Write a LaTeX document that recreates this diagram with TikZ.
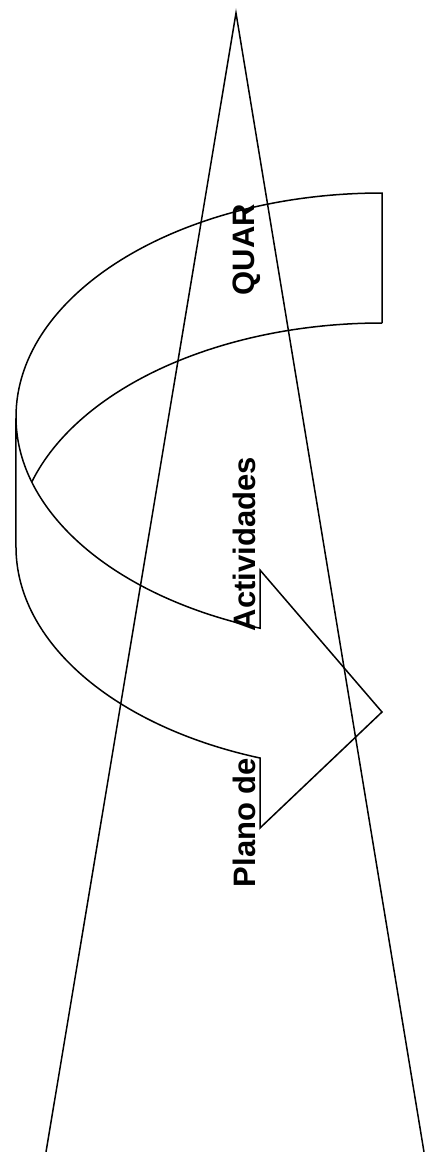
\documentclass[tikz,border=0pt]{standalone}
\usepackage{fontspec}
\setsansfont{Liberation Sans}
\usetikzlibrary{positioning}

\begin{document}
\begin{tikzpicture}[x=0.5pt, y=-0.5pt, line width=0.75pt, line join=miter,
    lbl/.style={rotate=90, anchor=base west, inner sep=0pt,
                font=\sffamily\bfseries\fontsize{15.5}{18}\selectfont}]

  \useasboundingbox (0,0) rectangle (426,1152);

  %% Cone
  \coordinate (apex) at (236,13);
  \coordinate (left foot) at (46,1152);
  \coordinate (right foot) at (424,1152);
  \draw (left foot) -- (apex) -- (right foot);

  %% Curved arrow: outer rim, head and lower inner rim
  \draw (382,323) -- (382,193)
        arc[start angle=270, end angle=109.47, x radius=366, y radius=224]
        -- (260,570) -- (382,712) -- (260,828) -- (260,758)
        arc[start angle=109.47, end angle=180, x radius=366, y radius=224]
        -- (16,417);
  %% upper inner rim
  \draw (382,323)
        arc[start angle=270, end angle=196.87, x radius=366, y radius=224];

  %% Labels
  \node[lbl] (quar) at (254,296) {QUAR};
  \node[lbl] (actividades) at (255,632) {Actividades};
  \node[lbl] (plano) at (255,888) {Plano de};

\end{tikzpicture}
\end{document}
